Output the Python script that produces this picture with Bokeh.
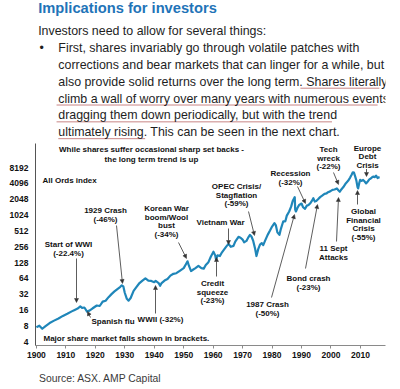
import math
from bokeh.plotting import figure
from bokeh.models import Range1d, Label, Arrow, NormalHead, FixedTicker, ColumnDataSource
from bokeh.layouts import column
from bokeh.embed import file_html
from bokeh.resources import INLINE

# ---------------- data ----------------
years = [1900.0, 1901.0, 1902.0, 1903.0, 1904.5, 1906.0, 1907.5, 1909.0, 1910.5, 1912.0,
         1913.0, 1914.0, 1914.9, 1915.5, 1916.3, 1917.2, 1918.0, 1919.0, 1920.5, 1921.5,
         1922.5, 1923.5, 1924.5, 1925.5, 1926.5, 1927.5, 1928.5, 1929.0, 1929.5, 1930.0,
         1930.7, 1931.3, 1932.0, 1933.0, 1934.0, 1935.0, 1936.0, 1937.0, 1938.0, 1939.0,
         1940.0, 1940.5, 1941.5, 1942.0, 1942.5, 1943.5, 1944.5, 1945.5, 1946.5, 1947.5,
         1948.8, 1950.0, 1950.8, 1951.3, 1951.8, 1952.5, 1953.0, 1954.0, 1955.0, 1956.0,
         1956.8, 1957.5, 1958.4, 1959.2, 1960.1, 1960.7, 1961.0, 1961.5, 1962.3, 1963.0,
         1963.8, 1964.5, 1965.2, 1966.0, 1966.9, 1967.5, 1968.6, 1969.3, 1970.0, 1970.5,
         1971.3, 1972.0, 1972.5, 1973.0, 1973.6, 1974.2, 1974.7, 1975.3, 1975.9, 1976.5,
         1977.0, 1977.6, 1978.5, 1979.3, 1980.0, 1980.8, 1981.3, 1981.8, 1982.5, 1983.0,
         1983.8, 1984.5, 1985.0, 1985.8, 1986.5, 1987.0, 1987.7, 1987.85, 1988.1, 1988.6,
         1989.2, 1990.0, 1990.5, 1991.2, 1991.8, 1992.4, 1992.9, 1993.5, 1994.0, 1994.5,
         1995.0, 1995.6, 1996.3, 1997.0, 1997.8, 1998.5, 1999.0, 1999.7, 2000.5, 2001.2,
         2002.0, 2002.5, 2003.0, 2003.5, 2004.2, 2005.0, 2005.8, 2006.5, 2007.0, 2007.4,
         2007.8, 2008.2, 2008.6, 2009.0, 2009.2, 2009.6, 2009.9, 2010.4, 2010.9, 2011.5,
         2011.9, 2012.4, 2013.0, 2013.5, 2014.0, 2014.4, 2014.9, 2015.3, 2015.8, 2016.0,
         2016.5]
all_ords = [7.5, 8.0, 7.0, 7.8, 9.0, 10.0, 11.0, 12.3, 13.5, 15.0,
            16.0, 17.0, 18.6, 17.5, 17.8, 14.9, 15.5, 17.0, 19.4, 19.0,
            23.0, 24.0, 28.0, 32.0, 36.0, 40.0, 44.0, 47.0, 45.0, 34.0,
            26.0, 24.0, 27.0, 37.0, 44.0, 52.0, 58.0, 64.0, 58.0, 57.0,
            54.0, 57.0, 52.0, 46.0, 52.0, 58.0, 62.0, 72.0, 78.0, 80.0,
            90.0, 100.0, 120.0, 135.0, 110.0, 88.0, 92.0, 100.0, 110.0, 100.0,
            98.0, 115.0, 130.0, 165.0, 205.0, 175.0, 145.0, 175.0, 170.0, 200.0,
            230.0, 260.0, 290.0, 255.0, 265.0, 320.0, 395.0, 380.0, 350.0, 310.0,
            330.0, 390.0, 430.0, 400.0, 330.0, 240.0, 170.0, 230.0, 280.0, 300.0,
            275.0, 330.0, 430.0, 520.0, 620.0, 720.0, 650.0, 480.0, 430.0, 560.0,
            780.0, 780.0, 1000.0, 1200.0, 1500.0, 1900.0, 2250.0, 1300.0, 1200.0, 1400.0,
            1600.0, 1700.0, 1450.0, 1350.0, 1550.0, 1600.0, 1700.0, 1900.0, 2150.0, 1850.0,
            1900.0, 2050.0, 2250.0, 2400.0, 2600.0, 2650.0, 2800.0, 2900.0, 3100.0, 3150.0,
            3300.0, 3050.0, 2850.0, 3150.0, 3500.0, 4100.0, 4600.0, 5300.0, 6000.0, 6700.0,
            6600.0, 5600.0, 4700.0, 3500.0, 3300.0, 4200.0, 4800.0, 4600.0, 4800.0, 4400.0,
            4100.0, 4400.0, 4900.0, 5100.0, 5400.0, 5550.0, 5400.0, 5800.0, 5200.0, 5300.0,
            5400.0]
x_ticks = [1900, 1910, 1920, 1930, 1940, 1950, 1960, 1970, 1980, 1990, 2000, 2010]
y_ticks = [4, 8, 16, 32, 64, 128, 256, 512, 1024, 2048, 4096, 8192]
y_tick_labels = [str(t) for t in y_ticks]

title_text = "Implications for investors"
intro_text = "Investors need to allow for several things:"
bullet_lines = ["First, shares invariably go through volatile patches with",
                "corrections and bear markets that can linger for a while, but",
                "also provide solid returns over the long term. Shares literally",
                "climb a wall of worry over many years with numerous events",
                "dragging them down periodically, but with the trend",
                "ultimately rising. This can be seen in the next chart."]
chart_title = ["While shares suffer occasional sharp set backs -",
               "the long term trend is up"]
source_text = "Source: ASX. AMP Capital"

# event annotations: text lines, label centre (page px), alignment
events = [
    (["Start of WWI", "(-22.4%)"], 68, 244, "center"),
    (["Spanish flu"], 91, 321, "left"),
    (["1929 Crash", "(-46%)"], 105, 210, "center"),
    (["Korean War", "boom/Wool", "bust", "(-34%)"], 166, 208, "center"),
    (["WWII (-32%)"], 160, 319, "center"),
    (["Credit", "squeeze", "(-23%)"], 212, 283, "center"),
    (["Vietnam War"], 220, 222, "center"),
    (["OPEC Crisis/", "Stagflation", "(-59%)"], 236, 186, "center"),
    (["Recession", "(-32%)"], 290, 173, "center"),
    (["Tech", "wreck", "(-22%)"], 328, 149, "center"),
    (["Europe", "Debt", "Crisis"], 367, 147.5, "center"),
    (["Global", "Financial", "Crisis", "(-55%)"], 363, 211, "center"),
    (["11 Sept", "Attacks"], 333, 248, "center"),
    (["Bond crash", "(-23%)"], 308, 278, "center"),
    (["1987 Crash", "(-50%)"], 267, 304, "center"),
    (["All Ords index"], 42, 180, "left"),
    (["Major share market falls shown in brackets."], 43, 338, "left"),
]
# arrows (page px): start -> tip
arrows = [
    (76, 258, 76, 302), (90, 317, 87, 311), (116, 225, 122, 283), (178, 242, 186, 258),
    (155, 313, 155, 285), (216, 276, 216, 257), (228, 228, 228, 244), (248, 211, 254, 235),
    (297, 186, 305, 203), (333, 172, 338, 184), (366, 168.5, 366, 176), (357, 204, 357, 190),
    (336, 241, 338, 197), (305, 268, 317, 204), (271, 297, 294, 214),
]

FONT = "Liberation Sans"          # bold texts
FONT_REG = "Liberation Sans"      # regular texts
INK = "#111111"
TEXT = "#1e1e1e"
LINE_BLUE = "#1f86b9"

# ---------------- layout geometry (page pixels; the page has no body margin) ----------------
W = 399
HEAD_BOTTOM = 140
CHART_BOTTOM = 366
FOOT_BOTTOM = 388
FR_L, FR_R, FR_T, FR_B = 35, 385, 143, 345
X0, X1 = 1899.7, 2018.5
Y_LO = 3.36
DEC_PER_PX = math.log10(17400 / Y_LO) / 195.0
Y_HI = Y_LO * 10 ** ((FR_B - FR_T) * DEC_PER_PX)
MID = 0.3465   # em-box middle above the baseline


def X(px):
    return X0 + (px - FR_L) * (X1 - X0) / (FR_R - FR_L)


def Y(py):
    return 10 ** (math.log10(Y_LO) + (FR_B - py) * DEC_PER_PX)


def text_fig(top, bottom):
    f = figure(width=W, height=bottom - top, x_range=Range1d(0, W),
               y_range=Range1d(bottom, top), x_axis_location=None, y_axis_location=None,
               output_backend="svg", toolbar_location=None,
               min_border=0, min_border_left=0, min_border_right=0,
               min_border_top=0, min_border_bottom=0)
    f.outline_line_color = None
    f.grid.visible = False
    return f


def put(fig, x, baseline, txt, size, color=TEXT, bold=False):
    fig.add_layout(Label(x=x, y=baseline - MID * size, text=txt, text_align="left",
                         text_baseline="middle", text_font=FONT if bold else FONT_REG,
                         text_font_style="bold" if bold else "normal",
                         text_font_size=f"{size}px", text_color=color))


# ---------------- header ----------------
BODY = 12.4
LINE_H = 16.83
head = text_fig(0, HEAD_BOTTOM)
put(head, 3, 12.7, title_text, 14.7, color="#1f74b8", bold=True)
put(head, 3, 35, intro_text, BODY)
put(head, 4.5, 35 + LINE_H, "\u2022", BODY)
for i, line in enumerate(bullet_lines):
    put(head, 26, 35 + LINE_H * (i + 1), line, BODY)
ul_base = [35 + LINE_H * 3, 35 + LINE_H * 4, 35 + LINE_H * 5, 35 + LINE_H * 6]
head.segment(x0=[302, 24, 24, 26], y0=[b + 2.2 for b in ul_base],
             x1=[392, 390, 338, 125], y1=[b + 2.2 for b in ul_base],
             line_color="#c98585", line_width=1)

# ---------------- chart ----------------
p = figure(width=W, height=CHART_BOTTOM - HEAD_BOTTOM, y_axis_type="log",
           x_range=Range1d(X0, X1), y_range=Range1d(Y_LO, Y_HI),
           output_backend="svg", toolbar_location=None,
           min_border_left=FR_L, min_border_right=W - FR_R,
           min_border_top=FR_T - HEAD_BOTTOM, min_border_bottom=CHART_BOTTOM - FR_B)
p.outline_line_color = None
p.grid.visible = False

p.xaxis.ticker = FixedTicker(ticks=x_ticks)
p.xaxis.major_label_text_font = FONT
p.xaxis.major_label_text_font_style = "bold"
p.xaxis.major_label_text_font_size = "8.5px"
p.xaxis.major_label_text_color = INK
p.xaxis.major_label_standoff = 3
p.xaxis.major_tick_out = 3
p.xaxis.major_tick_in = 0
p.xaxis.minor_tick_line_color = None
p.xaxis.axis_line_color = "#8a8a8a"
p.xaxis.major_tick_line_color = "#8a8a8a"

p.yaxis.ticker = FixedTicker(ticks=y_ticks)
p.yaxis.major_label_overrides = dict(zip(y_ticks, y_tick_labels))
p.yaxis.major_label_text_font = FONT
p.yaxis.major_label_text_font_style = "bold"
p.yaxis.major_label_text_font_size = "8.5px"
p.yaxis.major_label_text_color = INK
p.yaxis.major_label_standoff = 7
p.yaxis.major_tick_out = 0
p.yaxis.major_tick_in = 0
p.yaxis.minor_tick_line_color = None
p.yaxis.major_tick_line_color = None
p.yaxis.axis_line_color = "#555555"

src = ColumnDataSource(dict(year=years, value=all_ords))
p.line("year", "value", source=src, line_color=LINE_BLUE, line_width=2.2, line_join="round")

for sx0, sy0, sx1, sy1 in arrows:
    p.add_layout(Arrow(end=NormalHead(size=4, fill_color="#333333", line_color="#333333",
                                      line_width=0.5),
                       x_start=X(sx0), y_start=Y(sy0), x_end=X(sx1), y_end=Y(sy1),
                       line_color="#333333", line_width=0.8))

for lines, px, py, align in events:
    for i, txt in enumerate(lines):
        p.add_layout(Label(x=X(px), y=Y(py + 8.7 * i), text=txt, text_align=align,
                           text_baseline="middle", text_font=FONT, text_font_style="bold",
                           text_font_size="8px", text_color=INK))

for i, txt in enumerate(chart_title):
    p.add_layout(Label(x=X(151), y=Y(149 + 10 * i), text=txt, text_align="center",
                       text_baseline="middle", text_font=FONT, text_font_style="bold",
                       text_font_size="8px", text_color=INK))

# ---------------- footer ----------------
foot = text_fig(CHART_BOTTOM, FOOT_BOTTOM)
put(foot, 4, 381.5, source_text, 10.4, color="#3a3a3a")

layout = column(head, p, foot)
open("out.html", "w").write(file_html(layout, INLINE))
